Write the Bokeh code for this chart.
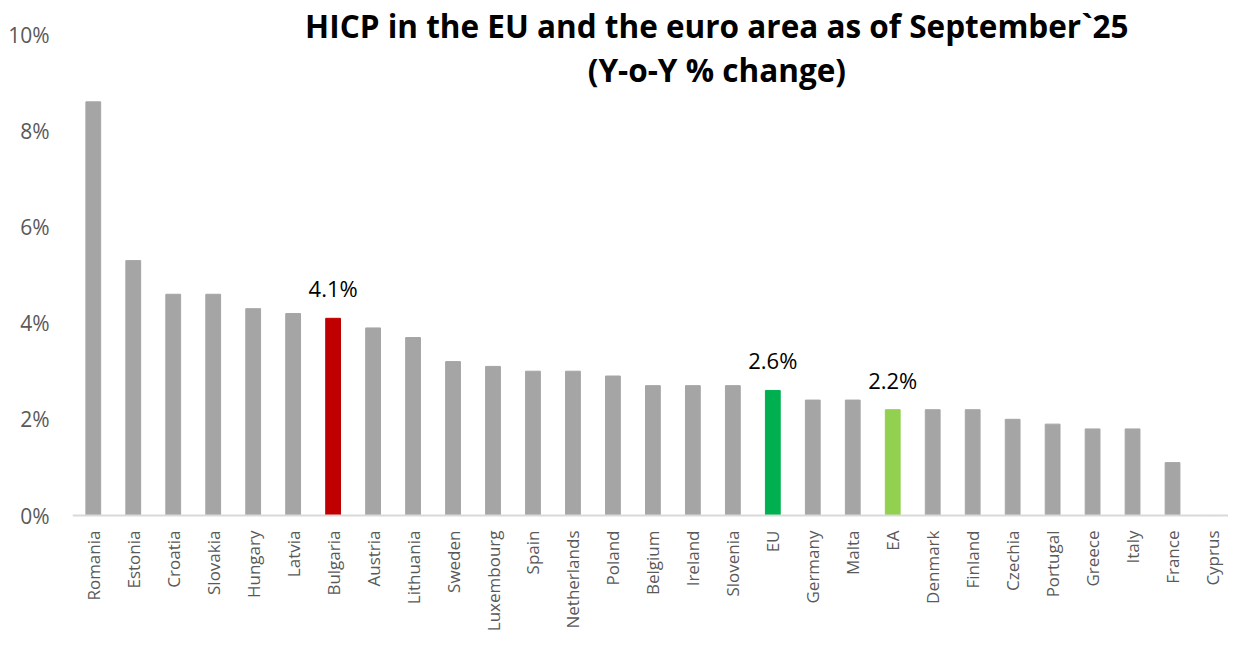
import math
from bokeh.plotting import figure
from bokeh.models import ColumnDataSource, Range1d, FixedTicker, Span
from bokeh.core.properties import value
from bokeh.embed import file_html
from bokeh.resources import INLINE

countries = ["Romania", "Estonia", "Croatia", "Slovakia", "Hungary", "Latvia", "Bulgaria",
             "Austria", "Lithuania", "Sweden", "Luxembourg", "Spain", "Netherlands", "Poland",
             "Belgium", "Ireland", "Slovenia", "EU", "Germany", "Malta", "EA", "Denmark",
             "Finland", "Czechia", "Portugal", "Greece", "Italy", "France", "Cyprus"]
hicp = [8.6, 5.3, 4.6, 4.6, 4.3, 4.2, 4.1, 3.9, 3.7, 3.2, 3.1, 3.0, 3.0, 2.9,
        2.7, 2.7, 2.7, 2.6, 2.4, 2.4, 2.2, 2.2, 2.2, 2.0, 1.9, 1.8, 1.8, 1.1, 0.0]
highlight = {"Bulgaria": "#c00000", "EU": "#00b050", "EA": "#92d050"}
y_ticks = [0, 2, 4, 6, 8, 10]
title_lines = ["HICP in the EU and the euro area as of September`25", "(Y-o-Y % change)"]

xs = list(range(len(countries)))
colors = [highlight.get(c, "#a5a5a5") for c in countries]
src = ColumnDataSource(dict(x=xs, top=hicp, color=colors, name=countries,
                            base=[0] * len(countries)))

p = figure(width=1228, height=632, output_backend="svg", toolbar_location=None,
           x_range=Range1d(-0.52, 28.4), y_range=Range1d(-2.432, 10.707),
           min_border_left=72, min_border_right=0, min_border_top=0, min_border_bottom=0)
p.outline_line_color = None
p.xgrid.visible = False
p.ygrid.visible = False
p.xaxis.visible = False

# category axis line
p.add_layout(Span(location=0, dimension="width", line_color="#d9d9d9", line_width=2))

p.vbar(x="x", top="top", width=0.37, color="color", source=src)

# category labels, rotated, below the axis line
p.text(x="x", y="base", text="name", source=src, angle=math.pi / 2,
       text_align="right", text_baseline="middle", y_offset=15,
       text_font=value("Open Sans"), text_font_size="17px", text_color="#595959")

# data labels for highlighted bars
lab_x = [xs[i] for i, c in enumerate(countries) if c in highlight]
lab_y = [hicp[i] for i, c in enumerate(countries) if c in highlight]
lab_t = ["%.1f%%" % v for v in lab_y]
p.text(x=lab_x, y=lab_y, text=lab_t, text_align="center", text_baseline="alphabetic",
       y_offset=-30, text_font=value("Open Sans"), text_font_size="22px", text_color="#000000")

# title inside the plot area
p.text(x=[15.6, 15.6], y=[10.19, 9.27], text=title_lines, text_align="center",
       text_baseline="middle", text_font=value("Open Sans"), text_font_style="bold",
       text_font_size="31.5px", text_color="#000000")

# y axis
p.yaxis.ticker = FixedTicker(ticks=y_ticks)
p.yaxis.major_label_overrides = {t: "%d%%" % t for t in y_ticks}
p.yaxis.major_label_text_font = "Open Sans"
p.yaxis.major_label_text_font_size = "21px"
p.yaxis.major_label_text_color = "#595959"
p.yaxis.major_label_standoff = 23
p.yaxis.axis_line_color = None
p.yaxis.major_tick_line_color = None
p.yaxis.major_tick_out = 0
p.yaxis.major_tick_in = 0
p.yaxis.minor_tick_line_color = None

open("out.html", "w").write(file_html(p, INLINE))
